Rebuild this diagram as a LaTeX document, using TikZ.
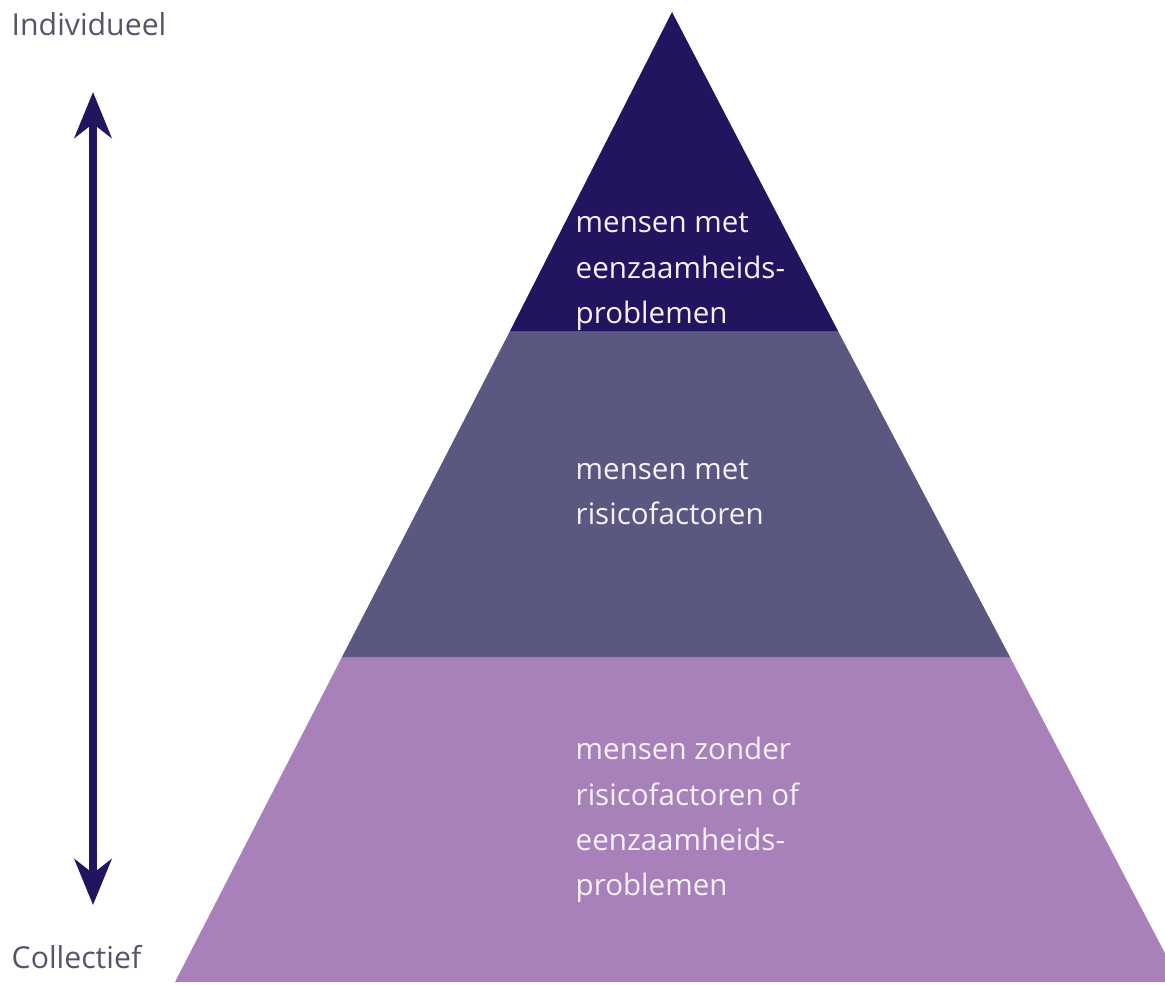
\documentclass[tikz,border=0pt]{standalone}
\usepackage{fontspec}
\setmainfont{Open Sans}
\usepackage{xcolor}
\usepackage{tikz}
\usetikzlibrary{arrows.meta,calc}
\definecolor{navy}{HTML}{23145F}
\definecolor{slate}{HTML}{5A5781}
\definecolor{lilac}{HTML}{A881BA}
\definecolor{muted}{HTML}{55546A}
\definecolor{paper}{HTML}{F6F0F8}
\tikzset{
  layertext/.style={anchor=base west,inner sep=0pt,align=left,text=paper,
    font=\fontsize{8.4}{12.8}\selectfont},
  sidelabel/.style={anchor=base west,inner sep=0pt,text=muted,
    font=\fontsize{8.6}{10}\selectfont},
  rangearrow/.style={{Stealth[length=13pt,width=10.5pt,inset=4pt]}-{Stealth[length=13pt,width=10.5pt,inset=4pt]},
    draw=navy,line width=2.4pt}
}

\begin{document}
\begin{tikzpicture}[x=.01cm,y=-.01cm]
  \useasboundingbox (0,0) rectangle (1165,984);
  % pyramid outline
  \coordinate (top) at (672,12);
  \coordinate (bl) at (175,982);
  \coordinate (br) at (1180,982);
  \coordinate (ml1) at (510,331);  \coordinate (mr1) at (838,331);
  \coordinate (ml2) at (342,657);  \coordinate (mr2) at (1010,657);
  \fill[lilac] (ml2) -- (mr2) -- (br) -- (bl) -- cycle;
  \fill[slate] (ml1) -- (mr1) -- (mr2) -- (ml2) -- cycle;
  \fill[navy] (top) -- (mr1) -- (ml1) -- cycle;

  % base anchor sits on the last line
  \node[layertext] (tier1) at (575,323)
    {mensen met\\eenzaamheids-\\problemen};
  \node[layertext] (tier2) at (575,524)
    {mensen met\\risicofactoren};
  \node[layertext] (tier3) at (575,895)
    {mensen zonder\\risicofactoren of\\eenzaamheids-\\problemen};

  % individueel / collectief scale
  \node[sidelabel] (indiv) at (11,35) {Individueel};
  \node[sidelabel] (coll) at (11,968) {Collectief};
  \coordinate (indtip) at (93,92);
  \coordinate (coltip) at (93,905);
  \draw[rangearrow] (indtip) -- (coltip);
\end{tikzpicture}
\end{document}
